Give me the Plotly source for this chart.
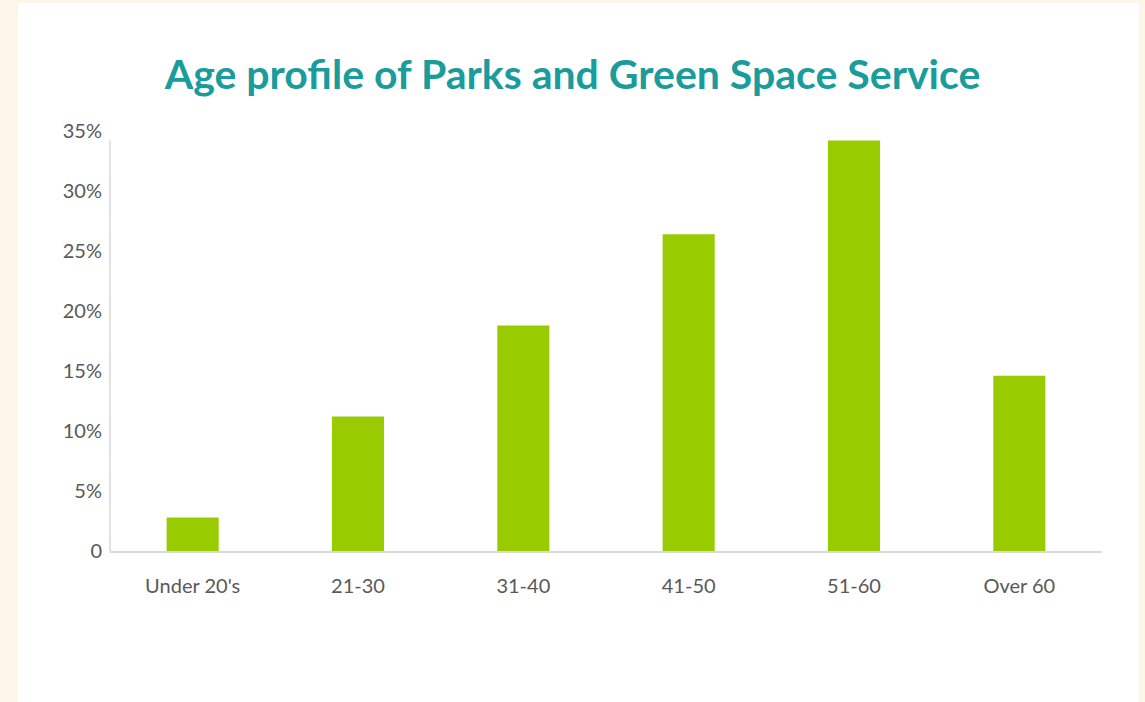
import plotly.graph_objects as go

categories = ["Under 20's", "21-30", "31-40", "41-50", "51-60", "Over 60"]
values = [2.8, 11.2, 18.8, 26.4, 34.2, 14.6]
y_tick_vals = [0, 5, 10, 15, 20, 25, 30, 35]
y_tick_text = ["0", "5%", "10%", "15%", "20%", "25%", "30%", "35%"]
title_text = "Age profile of Parks and Green Space Service"

fig = go.Figure()
fig.add_trace(go.Bar(x=categories, y=values, marker=dict(color="#99CC00", line=dict(width=0)),
                     hoverinfo="x+y"))

fig.update_layout(
    width=1145, height=702,
    margin=dict(l=110, r=43, t=131, b=151),
    paper_bgcolor="#FEF6E8",
    plot_bgcolor="rgba(0,0,0,0)",
    bargap=0.685,
    showlegend=False,
    title=dict(text=title_text, x=0.5, xref="container", xanchor="center",
               y=1 - 75 / 702, yref="container", yanchor="middle",
               font=dict(family="Lato", size=41, color="#1A9C9C", weight="bold")),
    xaxis=dict(showline=True, linecolor="#D9D9D9", linewidth=1.5, showgrid=False,
               ticks="outside", ticklen=16, tickcolor="rgba(0,0,0,0)",
               tickfont=dict(family="Lato", size=20, color="#595959")),
    yaxis=dict(range=[0, 35], showline=False, showgrid=False,
               zeroline=False, tickvals=y_tick_vals, ticktext=y_tick_text,
               ticks="outside", ticklen=3, tickcolor="rgba(0,0,0,0)",
               tickfont=dict(family="Lato", size=20, color="#595959")),
    shapes=[
        dict(type="rect", xref="paper", yref="paper", layer="below",
             x0=(18 - 110) / 992, x1=(1139 - 110) / 992,
             y0=-0.5, y1=(551 - 3) / 420,
             fillcolor="white", line=dict(width=0)),
        dict(type="line", xref="paper", yref="y", x0=0, x1=0, y0=0, y1=max(values),
             line=dict(color="#D9D9D9", width=1.5)),
    ],
)

fig.write_html("out.html", config={"displayModeBar": False},
               post_script="document.body.style.margin='0';document.body.style.background='#FEF6E8';")
